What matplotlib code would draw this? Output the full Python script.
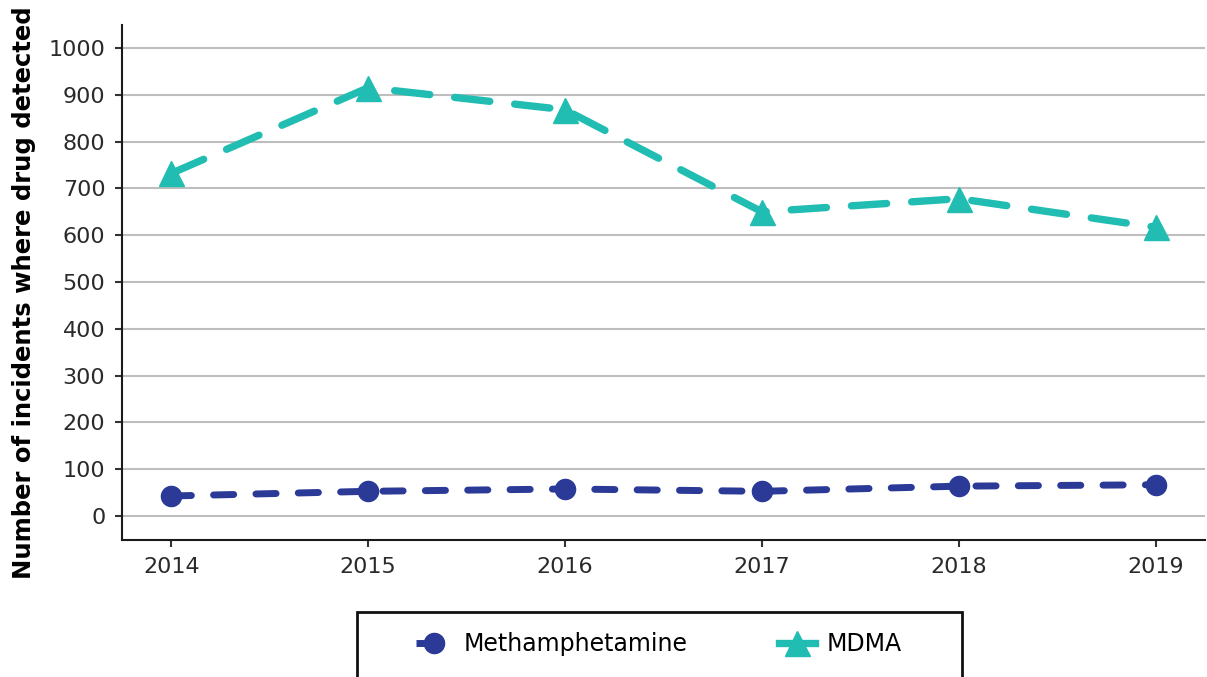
import matplotlib
matplotlib.use("Agg")
import matplotlib.pyplot as plt
from matplotlib.patches import Rectangle
from matplotlib.lines import Line2D

years = [2014, 2015, 2016, 2017, 2018, 2019]
methamphetamine = [43, 53, 58, 53, 64, 67]
mdma = [732, 915, 868, 650, 678, 617]
series_names = ["Methamphetamine", "MDMA"]
yticks = list(range(0, 1001, 100))

navy = "#2B3A97"
teal = "#22BDB2"

plt.rcParams['font.family'] = ['DejaVu Sans']

W, H = 1207, 677
fig = plt.figure(figsize=(W / 100, H / 100), dpi=100)
ax = fig.add_axes([122 / W, 1 - 540 / H, (1205 - 122) / W, (540 - 25) / H])

l1, = ax.plot(years, methamphetamine, color=navy, lw=5, marker='o', markersize=14.5,
              dashes=(2.9, 3.2), dash_capstyle='round', label=series_names[0])
l2, = ax.plot(years, mdma, color=teal, lw=5.3, marker='^', markersize=18,
              dashes=(4.8, 3.4), dash_capstyle='round', label=series_names[1])

ax.set_xlim(2013.75, 2019.25)
ax.set_ylim(-51, 1049)
ax.set_yticks(yticks)
ax.set_xticks(years)
ax.grid(axis='y', color='#BEBEBE', lw=1.5)
ax.set_axisbelow(True)
for s in ['top', 'right']:
    ax.spines[s].set_visible(False)
for s in ['left', 'bottom']:
    ax.spines[s].set_linewidth(1.5)
    ax.spines[s].set_color('#1a1a1a')
ax.tick_params(axis='both', labelsize=16, length=5, width=1.5, pad=7,
               color='#333333', labelcolor='#2a2a2a')
ax.set_ylabel("Number of incidents where drug detected", fontsize=17.5, fontweight='bold')
ax.yaxis.set_label_coords(-0.079, 0.48)

# legend proxies
h1 = Line2D([], [], color=navy, lw=5, marker='o', markersize=14.5,
            dashes=(2.4, 20), dash_capstyle='butt')
h2 = Line2D([], [], color=teal, lw=5.3, marker='^', markersize=18)

fig.patches.append(Rectangle((357 / W, -0.05), (962 - 357) / W, (677 - 612) / H + 0.05,
                             transform=fig.transFigure, fill=False, edgecolor='#111111', lw=2))
fig.legend(handles=[h1, h2], labels=series_names, loc='center',
           bbox_to_anchor=(659 / W, 1 - 644 / H), ncol=2,
           frameon=False, fontsize=17, handlelength=1.5, columnspacing=3.9, handletextpad=0.5)

fig.savefig("out.png", dpi=100)
